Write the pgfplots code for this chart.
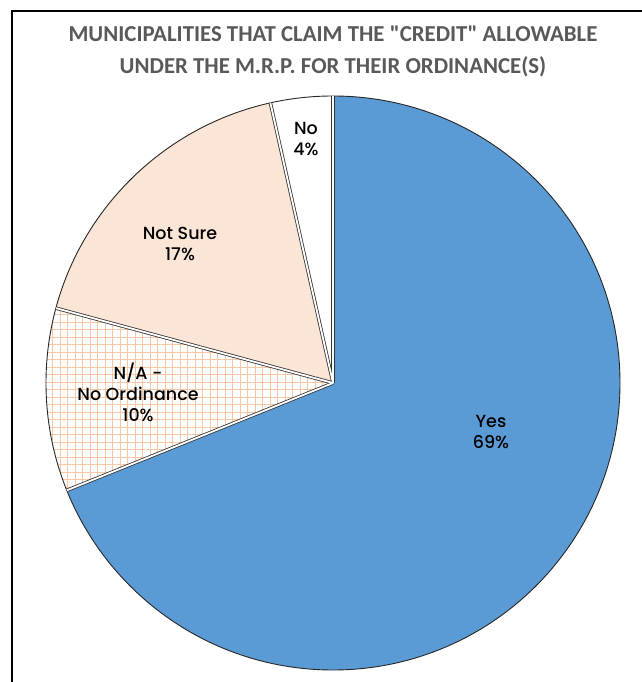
\documentclass[border=0pt]{standalone}
\usepackage{pgfplots}
\pgfplotsset{compat=1.18}
\usetikzlibrary{patterns.meta}
\usepackage{fontspec}
\setmainfont{Poppins Medium}
\newfontfamily\titlefont{Carlito}
\definecolor{yesblue}{HTML}{5B9BD5}
\definecolor{peach}{HTML}{FBE5D6}
\definecolor{gridorange}{HTML}{F7C6A3}
\definecolor{titlegray}{HTML}{595959}
% data (percent of municipalities)
\def\vYes{68.9}
\def\vNA{10.3}
\def\vNS{17.3}
\def\vNo{3.5}
\pgfmathsetmacro{\aA}{90}
\pgfmathsetmacro{\aB}{\aA-3.6*\vYes}
\pgfmathsetmacro{\aC}{\aB-3.6*\vNA}
\pgfmathsetmacro{\aD}{\aC-3.6*\vNS}
\pgfmathsetmacro{\aE}{\aD-3.6*\vNo}
\tikzset{sepb/.style={black!80, line width=3.4bp}, sepw/.style={white, line width=1.8bp},
  lab/.style={align=center, font=\fontsize{17.5bp}{21bp}\selectfont, text=black}}
\begin{document}
\begin{tikzpicture}
\begin{axis}[name=ax, width=642bp, height=682bp, scale only axis,
  xmin=0, xmax=642, ymin=0, ymax=682, hide axis, clip=false]
% slices
\fill[yesblue] (axis cs:333,299) -- ++(\aA:287bp) arc[start angle=\aA, end angle=\aB, radius=287bp] -- cycle;
\fill[white] (axis cs:333,299) -- ++(\aB:287bp) arc[start angle=\aB, end angle=\aC, radius=287bp] -- cycle;
\fill[pattern={Hatch[angle=0,distance=7.5bp,line width=0.8bp]}, pattern color=gridorange] (axis cs:333,299) -- ++(\aB:287bp) arc[start angle=\aB, end angle=\aC, radius=287bp] -- cycle;
\fill[peach] (axis cs:333,299) -- ++(\aC:287bp) arc[start angle=\aC, end angle=\aD, radius=287bp] -- cycle;
\fill[white] (axis cs:333,299) -- ++(\aD:287bp) arc[start angle=\aD, end angle=\aE, radius=287bp] -- cycle;
% outer arc
\draw[black!85, line width=0.9bp] (axis cs:333,299) ++(0:287bp) arc[start angle=0, end angle=360, radius=287bp];
% slice separators
\draw[sepb] (axis cs:333,299) -- ++(\aA:287bp);
\draw[sepb] (axis cs:333,299) -- ++(\aB:287bp);
\draw[sepb] (axis cs:333,299) -- ++(\aC:287bp);
\draw[sepb] (axis cs:333,299) -- ++(\aD:287bp);
\draw[sepw] (axis cs:333,299) -- ++(\aA:287bp);
\draw[sepw] (axis cs:333,299) -- ++(\aB:287bp);
\draw[sepw] (axis cs:333,299) -- ++(\aC:287bp);
\draw[sepw] (axis cs:333,299) -- ++(\aD:287bp);
% labels
\node[lab] at (axis cs:491,250) {Yes\\69\%};
\node[lab] at (axis cs:138,290) {N/A -\\No Ordinance\\10\%};
\node[lab] at (axis cs:180,438) {Not Sure\\17\%};
\node[lab] at (axis cs:306,543) {No\\4\%};
% title
\node[align=center, text=titlegray, font=\titlefont\bfseries\fontsize{22.8bp}{32bp}\selectfont] at (axis cs:333,631) {MUNICIPALITIES THAT CLAIM THE "CREDIT" ALLOWABLE\\UNDER THE M.R.P. FOR THEIR ORDINANCE(S)};
% frame
\draw[black, line width=2.2bp] (axis cs:12,0) -- (axis cs:12,671) -- (axis cs:650,671);
\end{axis}
\pgfresetboundingbox
\path (ax.south west) rectangle (ax.north east);
\end{tikzpicture}
\end{document}
